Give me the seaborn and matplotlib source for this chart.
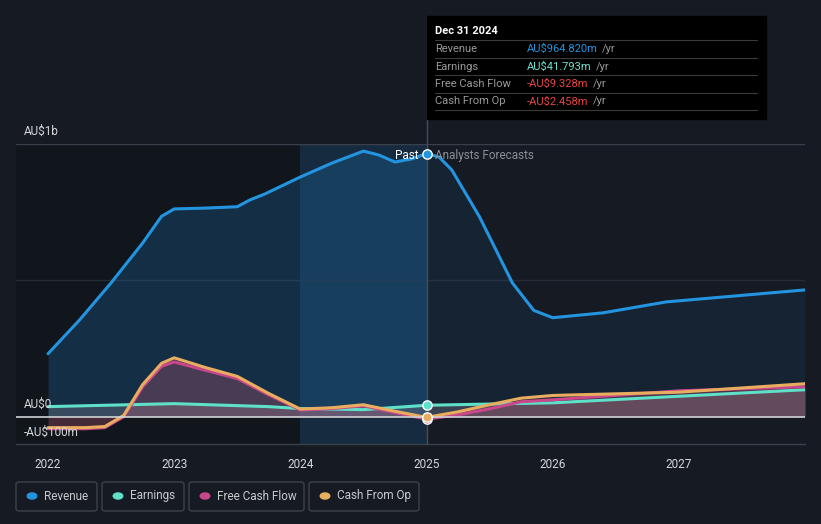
import matplotlib.pyplot as plt
import numpy as np
import pandas as pd
import seaborn as sns
from matplotlib.patches import FancyBboxPatch, Rectangle
from matplotlib.lines import Line2D

# data (AU$ millions, decimal years)
rev_years = [2022.0, 2022.25, 2022.5, 2022.75, 2022.9, 2023.0, 2023.25, 2023.5, 2023.6, 2023.72, 2024.0,
             2024.25, 2024.5, 2024.62, 2024.75, 2024.88, 2025.0, 2025.1, 2025.2, 2025.42, 2025.68,
             2025.85, 2026.0, 2026.4, 2026.9, 2027.5, 2028.0]
revenue = [231, 355, 491, 637, 735, 762, 765, 770, 795, 817, 879,
           930, 974, 960, 934, 945, 965, 952, 905, 733, 491,
           390, 363, 381, 421, 445, 465]

earn_years = [2022.0, 2023.0, 2023.75, 2024.0, 2024.5, 2025.0, 2026.0, 2027.0, 2028.0]
earnings = [37, 48, 37, 30, 26, 42, 51, 75, 99]

cf_years = [2022.0, 2022.3, 2022.45, 2022.6, 2022.75, 2022.9, 2023.0, 2023.25, 2023.5, 2023.75,
            2024.0, 2024.25, 2024.5, 2024.75, 2025.0, 2025.25, 2025.5, 2025.75, 2026.0, 2027.0, 2028.0]
free_cash_flow = [-44, -44, -40, 0, 110, 185, 201, 170, 140, 80,
                  25, 30, 40, 15, -9, 7, 29, 55, 62, 95, 110]
cash_from_op = [-40, -40, -36, 5, 118, 196, 216, 180, 148, 85,
                28, 33, 44, 20, -2.5, 18, 44, 68, 78, 90, 121]

x_ticks = [2022, 2023, 2024, 2025, 2026, 2027]

tooltip_rows = [("Revenue", "AU$964.820m", "#2394df"),
                ("Earnings", "AU$41.793m", "#6ee0d0"),
                ("Free Cash Flow", "-AU$9.328m", "#e84545"),
                ("Cash From Op", "-AU$2.458m", "#e84545")]

c_rev, c_earn, c_fcf, c_cfo = "#2394df", "#5ee0c9", "#c9478a", "#e9ad60"
bg = "#151a23"

sns.set_style("dark")
plt.rcParams['font.family'] = ['Roboto', 'DejaVu Sans']

W, H = 821, 524
fig = plt.figure(figsize=(W / 100, H / 100), dpi=100)
fig.patch.set_facecolor(bg)
ax = fig.add_axes([16 / W, (H - 444) / H, 789 / W, 300 / H])
ax.set_facecolor(bg)
ax.set_xlim(2021.746, 2028.0)
ax.set_ylim(-100, 1000)

# past / highlighted regions
ax.axvspan(2021.746, 2025, color="#11151c", lw=0, zorder=0)
ax.axvspan(2024, 2025, color="#1a3a58", alpha=0.6, lw=0, zorder=0)

# grid lines
for yv, col in [(1000, "#3a404b"), (500, "#262c36")]:
    ax.axhline(yv, color=col, lw=1, zorder=1)
ax.axhline(0, color="#cfd2d6", lw=1.2, zorder=6)

rv = np.array(rev_years)
ax.fill_between(rev_years, revenue, 0, where=rv <= 2025, color="#1e6aa8", alpha=0.3, lw=0, zorder=2)
ax.fill_between(rev_years, revenue, 0, where=rv >= 2025, color="#1e6aa8", alpha=0.12, lw=0, zorder=2)
ax.fill_between(earn_years, earnings, 0, color="#8c8c96", alpha=0.3, lw=0, zorder=2)
ax.fill_between(cf_years, free_cash_flow, 0, color=c_fcf, alpha=0.22, lw=0, zorder=2)
ax.fill_between(cf_years, cash_from_op, 0, color=c_cfo, alpha=0.08, lw=0, zorder=2)

rev_df = pd.DataFrame({"year": rev_years, "value": revenue})
earn_df = pd.DataFrame({"year": earn_years, "value": earnings})
cf_df = pd.DataFrame({"year": cf_years, "fcf": free_cash_flow, "cfo": cash_from_op})

sns.lineplot(data=rev_df, x="year", y="value", color=c_rev, lw=2.2, ax=ax, zorder=5)
sns.lineplot(data=earn_df, x="year", y="value", color=c_earn, lw=2.2, ax=ax, zorder=4)
sns.lineplot(data=cf_df, x="year", y="fcf", color=c_fcf, lw=2.2, ax=ax, zorder=4)
sns.lineplot(data=cf_df, x="year", y="cfo", color=c_cfo, lw=2.2, ax=ax, zorder=4)
for ln in ax.lines:
    ln.set_solid_joinstyle("round")

# markers at the selected date
sel = 2025.0
ax.scatter([sel], [revenue[rev_years.index(sel)]], s=45, color=c_rev, edgecolor="white", lw=1, zorder=8)
ax.scatter([sel], [earnings[earn_years.index(sel)]], s=45, color=c_earn, edgecolor="white", lw=1, zorder=8)
ax.scatter([sel], [free_cash_flow[cf_years.index(sel)]], s=45, color=c_fcf, edgecolor="white", lw=1, zorder=8)
ax.scatter([sel], [cash_from_op[cf_years.index(sel)]], s=45, color=c_cfo, edgecolor="white", lw=1, zorder=8)

# vertical line at selected date, extends up to tooltip
ax.axvline(sel, ymin=0, ymax=(444 - 16) / 300, color="#454b57", lw=1, clip_on=False, zorder=3)

ax.set_xlabel("")
ax.set_ylabel("")
ax.set_yticks([])
ax.set_xticks(x_ticks)
ax.set_xticklabels([str(t) for t in x_ticks])
ax.tick_params(axis="x", colors="#5a606a", length=4, width=1, labelcolor="#d5d7da", labelsize=8.5, pad=6)
for s in ["top", "right", "left"]:
    ax.spines[s].set_visible(False)
ax.spines["bottom"].set_color("#3a404b")
ax.spines["bottom"].set_linewidth(1)


def fx(px):
    return px / W


def fy(py):
    return 1 - py / H


# y labels
fig.text(fx(24), fy(131), "AU$1b", color="#d5d7da", fontsize=8.5, va="center")
fig.text(fx(24), fy(404), "AU$0", color="#d5d7da", fontsize=8.5, va="center")
fig.text(fx(24), fy(432), "-AU$100m", color="#d5d7da", fontsize=8.5, va="center")

# past / forecast labels
fig.text(fx(418), fy(156), "Past", color="white", fontsize=8.5, va="center", ha="right")
fig.text(fx(435), fy(156), "Analysts Forecasts", color="#8a8f98", fontsize=8.5, va="center")

# tooltip
fig.patches.append(Rectangle((fx(427), fy(119)), (766 - 427) / W, (119 - 16) / H,
                             transform=fig.transFigure, color="black", zorder=10))
fig.text(fx(435), fy(31), "Dec 31 2024", color="white", fontsize=8, fontweight="bold", va="center", zorder=11)
for i, (lab, val, col) in enumerate(tooltip_rows):
    yrow = 49 + i * 17.5
    fig.lines.append(Line2D([fx(435), fx(757)], [fy(yrow - 9), fy(yrow - 9)], transform=fig.transFigure,
                            color="#3a3a3a", lw=0.8, zorder=11))
    fig.text(fx(435), fy(yrow), lab, color="#9a9a9a", fontsize=8, va="center", zorder=11)
    vt = fig.text(fx(527), fy(yrow), val, color=col, fontsize=8, va="center", zorder=11)
    fig.add_artist(plt.Annotation("/yr", xy=(1, 0.5), xycoords=vt, xytext=(3, 0),
                                  textcoords="offset points", color="#9a9a9a", fontsize=8,
                                  va="center", zorder=11))
fig.lines.append(Line2D([fx(435), fx(757)], [fy(110), fy(110)], transform=fig.transFigure,
                        color="#3a3a3a", lw=0.8, zorder=11))

# legend boxes
legend_items = [("Revenue", c_rev, 16, 97), ("Earnings", c_earn, 102, 184),
                ("Free Cash Flow", c_fcf, 189, 304), ("Cash From Op", c_cfo, 309, 419)]
for lab, col, x0, x1 in legend_items:
    fig.patches.append(FancyBboxPatch((fx(x0), fy(511)), (x1 - x0) / W, 29 / H,
                                      boxstyle="round,pad=0,rounding_size=0.004",
                                      transform=fig.transFigure, facecolor=bg,
                                      edgecolor="#3c414a", lw=1))
    fig.patches.append(plt.Circle((fx(x0 + 16), fy(496)), 0.0058, transform=fig.transFigure,
                                  color=col))
    fig.text(fx(x0 + 28), fy(496), lab, color="#c8cacd", fontsize=8.5, va="center")

plt.savefig("out.png", dpi=100, facecolor=bg)
